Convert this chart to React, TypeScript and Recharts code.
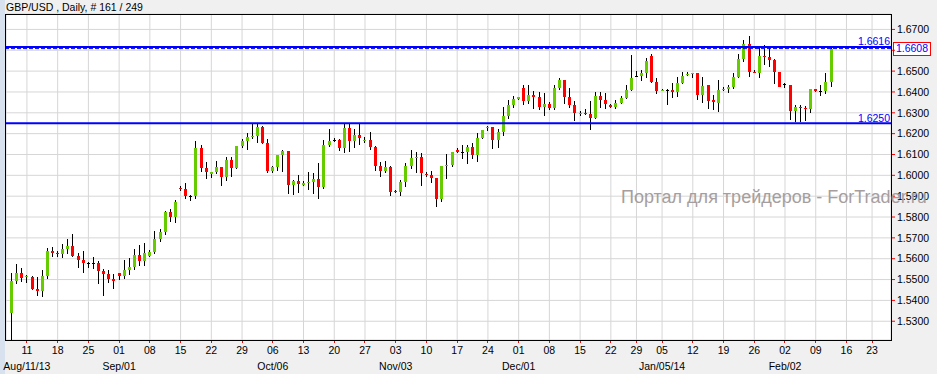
import React from "react";
import {
  ComposedChart,
  Bar,
  XAxis,
  YAxis,
  CartesianGrid,
  ReferenceLine,
} from "recharts";

// GBP/USD daily bars, Aug 07 2013 .. Feb 12 2014 (Sunday sessions included)
const opens = [
  1.5341, 1.5493, 1.5531, 1.5514, 1.5512, 1.5454, 1.5446, 1.5518, 1.5637, 1.5627,
  1.5624, 1.5648, 1.5662, 1.5614, 1.5594, 1.5578, 1.5578, 1.5579, 1.5541, 1.5528,
  1.5502, 1.5531, 1.5518, 1.5546, 1.556, 1.5618, 1.5589, 1.5614, 1.563, 1.5694,
  1.5728, 1.5824, 1.58, 1.5938, 1.5934, 1.5899, 1.5901, 1.6131, 1.6035, 1.6008,
  1.6016, 1.604, 1.5994, 1.6074, 1.6035, 1.6141, 1.6165, 1.6187, 1.6189, 1.6234,
  1.6154, 1.6022, 1.604, 1.6098, 1.6117, 1.5955, 1.5973, 1.5954, 1.5962, 1.597,
  1.5982, 1.5944, 1.6146, 1.6168, 1.617, 1.6133, 1.6227, 1.6165, 1.6194, 1.6165,
  1.617, 1.6136, 1.6045, 1.6022, 1.604, 1.5925, 1.5922, 1.5968, 1.6045, 1.6083,
  1.6088, 1.6008, 1.6002, 1.5987, 1.5888, 1.6045, 1.605, 1.612, 1.6112, 1.6112,
  1.6134, 1.6099, 1.6181, 1.6226, 1.6232, 1.6171, 1.6208, 1.6285, 1.6338, 1.6365,
  1.6419, 1.6358, 1.6386, 1.6374, 1.633, 1.6342, 1.6323, 1.6419, 1.6458, 1.6376,
  1.6338, 1.6296, 1.6298, 1.6294, 1.6275, 1.6381, 1.6362, 1.6338, 1.6328, 1.6346,
  1.6371, 1.641, 1.6477, 1.6477, 1.6491, 1.6573, 1.645, 1.6406, 1.6408, 1.6411,
  1.6402, 1.6445, 1.648, 1.6485, 1.6493, 1.6387, 1.6434, 1.636, 1.6349, 1.641,
  1.6414, 1.6424, 1.6474, 1.6558, 1.6629, 1.6498, 1.6493, 1.6574, 1.6568, 1.6554,
  1.6496, 1.6437, 1.6434, 1.631, 1.6326, 1.6325, 1.632, 1.6413, 1.6403, 1.6403,
  1.6446,
];
const highs = [
  1.5531, 1.5574, 1.5555, 1.5523, 1.5517, 1.5512, 1.5546, 1.5651, 1.5656, 1.5635,
  1.567, 1.5694, 1.5718, 1.5629, 1.5637, 1.5586, 1.5608, 1.5589, 1.5549, 1.5546,
  1.5526, 1.5533, 1.5594, 1.5603, 1.5645, 1.5666, 1.5674, 1.564, 1.5733, 1.5742,
  1.583, 1.5838, 1.5883, 1.5949, 1.5963, 1.5906, 1.6165, 1.6147, 1.6064, 1.6016,
  1.6067, 1.604, 1.609, 1.6088, 1.6141, 1.6173, 1.6205, 1.6246, 1.6246, 1.6238,
  1.6174, 1.6045, 1.6098, 1.6123, 1.6117, 1.5979, 1.6002, 1.5971, 1.6016, 1.6011,
  1.6059, 1.617, 1.6222, 1.6178, 1.6176, 1.6253, 1.6253, 1.6222, 1.6253, 1.6184,
  1.6208, 1.6141, 1.6066, 1.6069, 1.6043, 1.593, 1.5978, 1.6058, 1.612, 1.6112,
  1.6107, 1.6016, 1.6019, 1.5987, 1.6045, 1.6102, 1.6114, 1.613, 1.6146, 1.6144,
  1.6154, 1.6202, 1.6219, 1.6237, 1.6232, 1.6221, 1.6328, 1.6362, 1.6381, 1.6378,
  1.6435, 1.6434, 1.6405, 1.6402, 1.6394, 1.6354, 1.6432, 1.6466, 1.6458, 1.6421,
  1.6357, 1.6309, 1.632, 1.6358, 1.6398, 1.64, 1.6394, 1.6341, 1.6362, 1.6382,
  1.6434, 1.6578, 1.6502, 1.6506, 1.6562, 1.6582, 1.6469, 1.6414, 1.6413, 1.6442,
  1.6474, 1.6494, 1.6494, 1.6493, 1.6493, 1.647, 1.6434, 1.6386, 1.6456, 1.6422,
  1.6432, 1.649, 1.6581, 1.665, 1.6669, 1.6506, 1.661, 1.6626, 1.6611, 1.6557,
  1.6496, 1.6442, 1.6434, 1.6339, 1.6339, 1.6334, 1.6414, 1.6413, 1.6434, 1.649,
  1.6614,
];
const lows = [
  1.5211, 1.548, 1.549, 1.5485, 1.5448, 1.5422, 1.5418, 1.5502, 1.5606, 1.561,
  1.5605, 1.5622, 1.561, 1.5557, 1.5533, 1.5557, 1.5552, 1.548, 1.5422, 1.5483,
  1.5456, 1.5499, 1.5502, 1.5522, 1.5547, 1.5565, 1.5563, 1.5608, 1.5622, 1.5682,
  1.5714, 1.5774, 1.5773, 1.5925, 1.5886, 1.5878, 1.5888, 1.6016, 1.5982, 1.5987,
  1.6006, 1.5949, 1.5974, 1.5994, 1.603, 1.6131, 1.6122, 1.6174, 1.6157, 1.6149,
  1.6011, 1.6011, 1.6021, 1.6018, 1.591, 1.5906, 1.5915, 1.5949, 1.5928, 1.591,
  1.5888, 1.5936, 1.6136, 1.6158, 1.6117, 1.6109, 1.6114, 1.6133, 1.6147, 1.6154,
  1.6122, 1.6019, 1.5992, 1.601, 1.5901, 1.5917, 1.5901, 1.5946, 1.603, 1.6011,
  1.5949, 1.5992, 1.5962, 1.585, 1.5874, 1.5984, 1.6042, 1.6106, 1.608, 1.6054,
  1.608, 1.6066, 1.6174, 1.6214, 1.6126, 1.6131, 1.6189, 1.6272, 1.6322, 1.6362,
  1.6339, 1.6342, 1.632, 1.6314, 1.6285, 1.6314, 1.6314, 1.641, 1.6342, 1.6325,
  1.6259, 1.6285, 1.6288, 1.6218, 1.627, 1.6323, 1.632, 1.6323, 1.632, 1.6341,
  1.6366, 1.6406, 1.6474, 1.6453, 1.6466, 1.6445, 1.6392, 1.6403, 1.6336, 1.637,
  1.6376, 1.6438, 1.6478, 1.6469, 1.6362, 1.6346, 1.6317, 1.6312, 1.6306, 1.6406,
  1.6394, 1.6414, 1.6469, 1.6546, 1.6474, 1.649, 1.6466, 1.653, 1.6522, 1.6438,
  1.6422, 1.6418, 1.6266, 1.6258, 1.6258, 1.6262, 1.6298, 1.64, 1.6379, 1.6389,
  1.6422,
];
const closes = [
  1.5493, 1.5531, 1.5509, 1.5517, 1.5454, 1.5446, 1.5518, 1.5637, 1.5627, 1.5624,
  1.5645, 1.5662, 1.5614, 1.5595, 1.5581, 1.5578, 1.5578, 1.5542, 1.5528, 1.5502,
  1.5494, 1.5518, 1.5544, 1.556, 1.5618, 1.5589, 1.5627, 1.5634, 1.5694, 1.5728,
  1.5826, 1.58, 1.5872, 1.5934, 1.5901, 1.5899, 1.6131, 1.6037, 1.6018, 1.6016,
  1.604, 1.5994, 1.6074, 1.6035, 1.6141, 1.6165, 1.6184, 1.619, 1.6234, 1.6157,
  1.6021, 1.604, 1.6098, 1.6117, 1.5955, 1.5973, 1.596, 1.5963, 1.5968, 1.5982,
  1.5944, 1.6146, 1.6165, 1.6168, 1.6133, 1.6227, 1.6165, 1.6194, 1.6178, 1.6171,
  1.6136, 1.6045, 1.6022, 1.604, 1.5922, 1.592, 1.5968, 1.6045, 1.6083, 1.6088,
  1.6013, 1.6002, 1.5986, 1.5888, 1.6045, 1.605, 1.611, 1.6114, 1.6112, 1.6134,
  1.6099, 1.6179, 1.6216, 1.6232, 1.6171, 1.6208, 1.6285, 1.6338, 1.6365, 1.6374,
  1.6358, 1.6386, 1.6378, 1.633, 1.6342, 1.6323, 1.6419, 1.6458, 1.6378, 1.6339,
  1.6298, 1.6301, 1.6293, 1.6275, 1.6381, 1.6362, 1.6342, 1.6328, 1.6346, 1.6371,
  1.641, 1.6467, 1.6477, 1.6491, 1.6549, 1.645, 1.6405, 1.6411, 1.6408, 1.6402,
  1.6445, 1.6477, 1.6485, 1.6493, 1.6387, 1.643, 1.6357, 1.6352, 1.641, 1.6416,
  1.6424, 1.6472, 1.6558, 1.6629, 1.6498, 1.6493, 1.6574, 1.6571, 1.6555, 1.6496,
  1.6426, 1.6437, 1.631, 1.6326, 1.6323, 1.632, 1.6414, 1.6403, 1.6403, 1.6446,
  1.6608,
];

const holidays = ["2013-12-25", "2014-01-01"];
const futureDays = [
  "2014-02-13", "2014-02-14", "2014-02-16", "2014-02-17", "2014-02-18", "2014-02-19",
  "2014-02-20", "2014-02-23", "2014-02-24", "2014-02-25", "2014-02-26",
];
const monthLabels: Record<string, string> = {
  "2013-08-11": "Aug/11/13",
  "2013-09-01": "Sep/01",
  "2013-10-06": "Oct/06",
  "2013-11-03": "Nov/03",
  "2013-12-01": "Dec/01",
  "2014-01-05": "Jan/05/14",
  "2014-02-02": "Feb/02",
};
const priceTicks = [
  1.53, 1.54, 1.55, 1.56, 1.57, 1.58, 1.59, 1.6, 1.61, 1.62, 1.63, 1.64, 1.65, 1.66, 1.67,
];
const resistance = 1.6616;
const support = 1.625;
const bid = 1.6608;

const FONT = "'Liberation Sans', Arial, sans-serif";
const UP = "#66cc00";
const DOWN = "#ff0000";

function tradingDays(count: number): string[] {
  const out: string[] = [];
  const d = new Date(Date.UTC(2013, 7, 7));
  while (out.length < count) {
    const iso = d.toISOString().slice(0, 10);
    if (d.getUTCDay() !== 6 && !holidays.includes(iso)) out.push(iso);
    d.setUTCDate(d.getUTCDate() + 1);
  }
  return out;
}

const days = [...tradingDays(opens.length), ...futureDays];
const data = days.map((date, i) =>
  i < opens.length
    ? { date, open: opens[i], high: highs[i], low: lows[i], close: closes[i] }
    : { date }
);
const sundays = days.filter((s) => new Date(s + "T00:00:00Z").getUTCDay() === 0);

function Candle(props: any) {
  const { x, y, width, height, payload } = props;
  if (!payload || payload.open == null || !height) return <g />;
  const { open, close, high, low } = payload;
  const k = height / (high - low);
  const at = (v: number) => y + (high - v) * k;
  const cx = Math.floor(x + width / 2);
  const top = Math.round(at(Math.max(open, close)));
  const bot = Math.round(at(Math.min(open, close)));
  const fill = close > open ? UP : close < open ? DOWN : "#000";
  return (
    <g>
      <rect x={cx} y={Math.round(y)} width={1} height={Math.max(1, Math.round(y + height) - Math.round(y))} fill="#000" />
      <rect x={cx - 1} y={top} width={3} height={Math.max(1, bot - top)} fill={fill} />
    </g>
  );
}

function DayTick(props: any) {
  const { x, y, payload } = props;
  const v: string = payload.value;
  const month = monthLabels[v];
  return (
    <g>
      <rect x={Math.floor(x)} y={y + 1} width={1} height={2} fill="#ff0000" />
      <text x={x} y={y + 13.5} textAnchor="middle" fill="#000" fontSize={10.5} fontFamily={FONT}>
        {v.slice(8)}
      </text>
      {month && (
        <text x={x} y={y + 30} textAnchor="middle" fill="#000" fontSize={10.5} fontFamily={FONT}>
          {month}
        </text>
      )}
    </g>
  );
}

const lineLabel = (text: string) => (p: any) => {
  const vb = p.viewBox;
  return (
    <text x={vb.x + vb.width - 1} y={vb.y - 1.5} textAnchor="end" fill="#0000ff" fontSize={10.5} fontFamily={FONT}>
      {text}
    </text>
  );
};

const bidLabel = (p: any) => {
  const vb = p.viewBox;
  const bx = vb.x + vb.width + 2;
  return (
    <g>
      <rect x={bx + 0.5} y={Math.round(vb.y - 7) + 0.5} width={37} height={13} fill="#fff" stroke="#ff0000" />
      <text x={bx + 19} y={vb.y} dy="0.36em" textAnchor="middle" fill="#0000ff" fontSize={10.5} fontFamily={FONT}>
        {bid.toFixed(4)}
      </text>
    </g>
  );
};

// the bid box sits on top of the 1.6600 label, so that label is not shown
const priceLabel = (v: number) => (Math.abs(v - 1.66) < 1e-6 ? "" : v.toFixed(4));

export default function App() {
  return (
    <div style={{ position: "absolute", left: 0, top: 0, width: 937, height: 374, background: "#f0f0f0", fontFamily: FONT }}>
      <div style={{ position: "absolute", left: 0, top: 0, width: 5, height: 374, background: "#d8e2ef" }} />
      <ComposedChart width={937} height={374} data={data} margin={{ top: 14, right: 0, bottom: 0, left: 6 }}>
        <CartesianGrid stroke="#d6d6d6" fill="#ffffff" />
        <XAxis
          dataKey="date"
          ticks={sundays}
          interval={0}
          tick={DayTick}
          tickLine={false}
          axisLine={false}
          tickSize={0}
          tickMargin={0}
          height={34}
          padding={{ left: 3, right: 1 }}
        />
        <YAxis
          orientation="right"
          type="number"
          domain={[1.521, 1.6774]}
          allowDataOverflow
          ticks={priceTicks}
          interval={0}
          width={46}
          tickFormatter={priceLabel}
          tick={{ fill: "#000", fontSize: 10.5, fontFamily: FONT }}
          tickLine={{ stroke: "#ff0000" }}
          tickSize={4}
          tickMargin={2}
          axisLine={false}
        />
        <Bar
          dataKey={(d: any) => (d.open == null ? null : [d.low, d.high])}
          shape={Candle}
          isAnimationActive={false}
        />
        <ReferenceLine y={bid} stroke="#0000ff" strokeWidth={1} strokeDasharray="4 2" label={bidLabel} />
        <ReferenceLine y={resistance} stroke="#0000ff" strokeWidth={2} label={lineLabel(resistance.toFixed(4))} />
        <ReferenceLine y={support} stroke="#0000ff" strokeWidth={2} label={lineLabel(support.toFixed(4))} />
      </ComposedChart>
      <div
        style={{
          position: "absolute",
          left: 5,
          top: 14,
          width: 887,
          height: 327,
          border: "1px solid #000",
          boxSizing: "border-box",
          pointerEvents: "none",
        }}
      />
      <svg width={937} height={374} style={{ position: "absolute", left: 0, top: 0, pointerEvents: "none" }}>
        <text x={6} y={10.5} fontSize={10.5} fill="#000" fontFamily={FONT}>
          GBP/USD , Daily, # 161 / 249
        </text>
        <text x={621} y={203} fontSize={18} fill="#a69e9e" fontFamily={FONT}>
          Портал для трейдеров - ForTrader.ru
        </text>
      </svg>
    </div>
  );
}
